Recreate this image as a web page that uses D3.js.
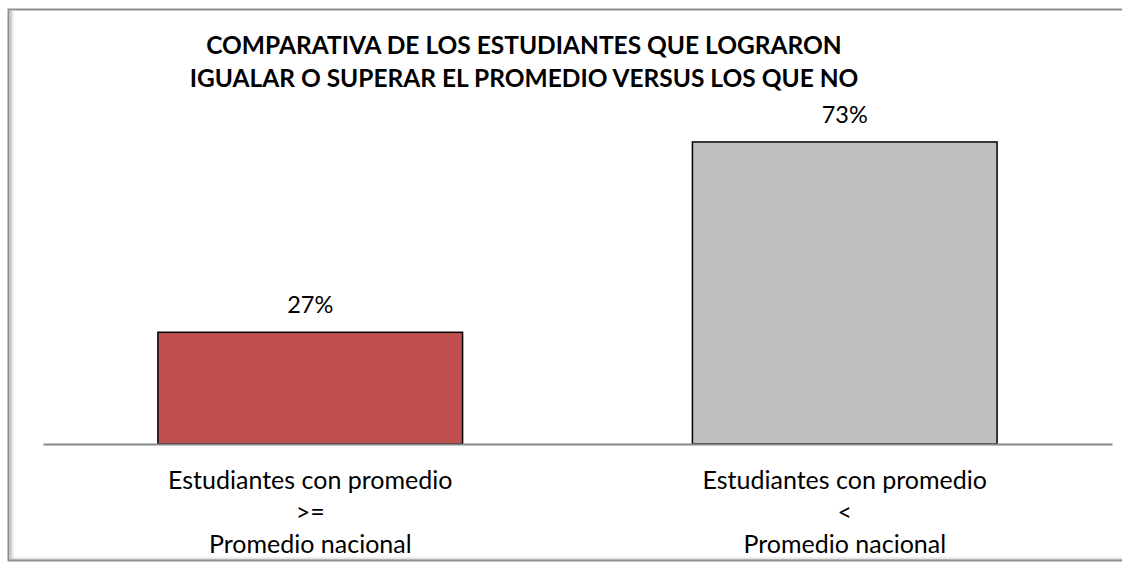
<!DOCTYPE html>
<html>
<head>
<meta charset="utf-8">
<script src="https://cdn.jsdelivr.net/npm/d3@7"></script>
<style>
  html, body { margin: 0; padding: 0; background: #ffffff; }
  svg { display: block; }
  text { font-family: Lato, "Open Sans", sans-serif; fill: #000; }
</style>
</head>
<body>
<svg id="chart" width="1122" height="563"></svg>
<script>
// Chart data
const titleLines = [
  "COMPARATIVA DE LOS ESTUDIANTES QUE LOGRARON",
  "IGUALAR O SUPERAR EL PROMEDIO VERSUS LOS QUE NO"
];
const categories = ["ge", "lt"];
const categoryLabels = [
  ["Estudiantes con promedio", ">=", "Promedio nacional"],
  ["Estudiantes con promedio", "<", "Promedio nacional"]
];
const values = [0.27, 0.73];
const barColors = ["#C0504D", "#BFBFBF"];

const svg = d3.select("#chart");
const W = 1122, H = 563;

// Frame with soft inner shadow along the left and bottom edges
const defs = svg.append("defs");
const gl = defs.append("linearGradient").attr("id", "shadeL").attr("x1", 0).attr("x2", 1).attr("y1", 0).attr("y2", 0);
gl.append("stop").attr("offset", 0).attr("stop-color", "#a8a8a8").attr("stop-opacity", 0.8);
gl.append("stop").attr("offset", 1).attr("stop-color", "#ffffff").attr("stop-opacity", 0);
const gb = defs.append("linearGradient").attr("id", "shadeB").attr("x1", 0).attr("x2", 0).attr("y1", 1).attr("y2", 0);
gb.append("stop").attr("offset", 0).attr("stop-color", "#a8a8a8").attr("stop-opacity", 0.6);
gb.append("stop").attr("offset", 1).attr("stop-color", "#ffffff").attr("stop-opacity", 0);

svg.append("rect").attr("x", 10).attr("y", 11).attr("width", 6).attr("height", 548).attr("fill", "url(#shadeL)");
svg.append("rect").attr("x", 10).attr("y", 555).attr("width", W).attr("height", 5).attr("fill", "url(#shadeB)");
svg.append("rect")
  .attr("x", 8.5).attr("y", 9.5)
  .attr("width", W + 10).attr("height", 551)
  .attr("fill", "none").attr("stroke", "#8e8e8e").attr("stroke-width", 2);

// Scales
const x = d3.scaleBand().domain(categories).range([43, 1112]).paddingInner(0.43).paddingOuter(0.215);
const y = d3.scaleLinear().domain([0, 0.8]).range([444, 113]);

// Title
svg.append("g").selectAll("text").data(titleLines).join("text")
  .attr("x", 524)
  .attr("y", (d, i) => 54 + i * 33)
  .attr("text-anchor", "middle")
  .attr("font-weight", "bold")
  .attr("font-size", 24.5)
  .text(d => d);

// Bars
svg.append("g").selectAll("rect").data(values).join("rect")
  .attr("x", (d, i) => x(categories[i]))
  .attr("y", d => y(d))
  .attr("width", x.bandwidth())
  .attr("height", d => y(0) - y(d))
  .attr("fill", (d, i) => barColors[i])
  .attr("stroke", "#000")
  .attr("stroke-width", 1.5);

// Baseline axis
const xAxis = svg.append("g").attr("transform", `translate(0,${y(0)})`)
  .call(d3.axisBottom(x).tickSize(0).tickFormat(""));
xAxis.select(".domain").attr("stroke", "#888888").attr("stroke-width", 2);

// Value labels
svg.append("g").selectAll("text").data(values).join("text")
  .attr("x", (d, i) => x(categories[i]) + x.bandwidth() / 2)
  .attr("y", d => y(d) - 19)
  .attr("text-anchor", "middle")
  .attr("font-size", 23.5)
  .text(d => d3.format(".0%")(d));

// Category labels (three lines each)
const catG = svg.append("g").selectAll("g").data(categoryLabels).join("g")
  .attr("transform", (d, i) => `translate(${x(categories[i]) + x.bandwidth() / 2},0)`);
catG.selectAll("text").data(d => d).join("text")
  .attr("x", 0)
  .attr("y", (d, i) => 489 + i * 32)
  .attr("text-anchor", "middle")
  .attr("font-size", 25)
  .text(d => d);
</script>
</body>
</html>
